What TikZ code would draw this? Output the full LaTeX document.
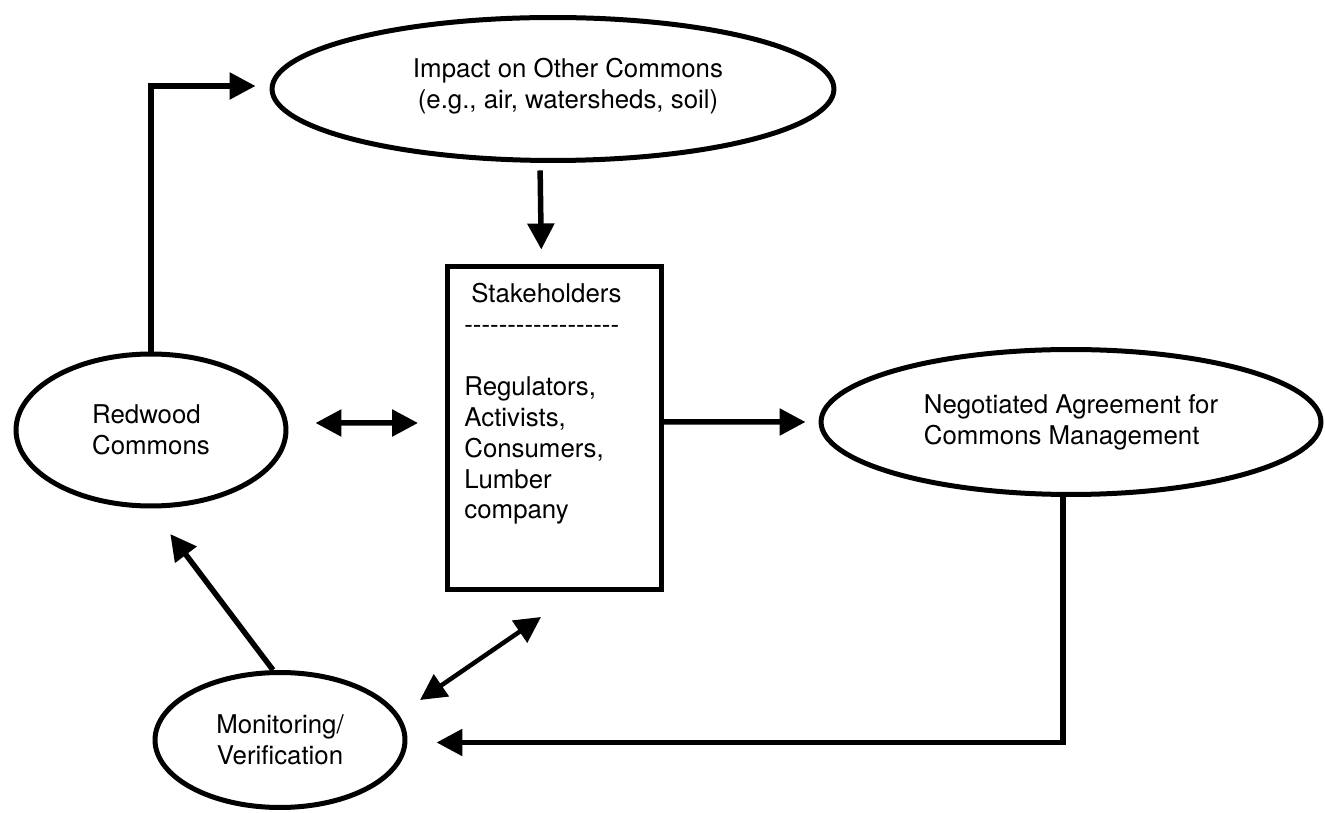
\documentclass[tikz,border=0pt]{standalone}
\usepackage{fontspec}
\setmainfont{TeX Gyre Heros}
\usetikzlibrary{arrows.meta,shapes.geometric}
\tikzset{
   >={Triangle[length=0.52cm,width=0.52cm]},
   commons/.style={ellipse,draw,line width=0.1cm,align=left},
   holders/.style={rectangle,draw,line width=0.1cm,minimum width=4.28cm,minimum height=6.46cm},
   link/.style={line width=0.11cm},
   thinlink/.style={line width=0.09cm}
}
\begin{document}
\begin{tikzpicture}[x=0.02cm,y=-0.02cm,every node/.style={font=\fontsize{14.7pt}{17.6pt}\selectfont}]
   \useasboundingbox (0,0) rectangle (1325,813);

   \node[commons,minimum width=11.24cm,minimum height=2.86cm,
      label={[align=center,xshift=0.3cm,yshift=0.06cm]center:Impact on Other Commons\\(e.g., air, watersheds, soil)}] (impact) at (553,89) {};
   \node[commons,minimum width=5.4cm,minimum height=3.04cm] (redwood) at (151,430) {Redwood\\Commons};
   \node[holders] (stake) at (554.5,428) {};
   \node[align=left,anchor=base west,inner sep=0pt] (stakelist) at (464,519)
      {\hspace*{0.14cm}Stakeholders\\\foreach \d in {1,...,18}{-}\\[17.6pt]Regulators,\\Activists,\\Consumers,\\Lumber\\company};
   \node[commons,minimum width=10cm,minimum height=2.9cm] (negotiate) at (1071,422)
      {Negotiated Agreement for\\Commons Management};
   \node[commons,align=center,minimum width=5cm,minimum height=2.7cm] (monitor) at (280,740) {Monitoring/\\Verification};

   \draw[link,->,shorten >=0.28cm] (redwood.north) |- ([yshift=0.06cm]impact.west);
   \draw[link,->,shorten <=0.15cm,shorten >=0.29cm] ([xshift=-0.26cm]impact.south) -- ([xshift=-0.26cm]stake.north);
   \draw[link,<->,shorten <=0.54cm,shorten >=0.54cm] ([yshift=0.14cm]redwood.east) -- ([yshift=0.1cm]stake.west);
   \draw[link,->,shorten >=0.26cm] ([yshift=0.12cm]stake.east) -- (negotiate.west);
   \draw[link,->,shorten >=0.58cm] ([xshift=-0.16cm]negotiate.south) |- ([yshift=-0.05cm]monitor.east);
   \draw[link,->,shorten >=0.64cm] ([xshift=-0.14cm]monitor.north) -- (redwood.south);

   \coordinate (mondiag) at (420,700);
   \coordinate (stakediag) at (541,617);
   \draw[thinlink,<->] (mondiag) -- (stakediag);
\end{tikzpicture}
\end{document}
